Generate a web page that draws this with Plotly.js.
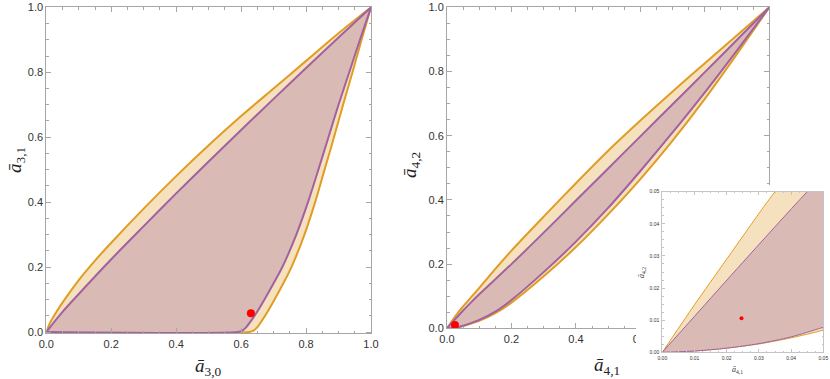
<!DOCTYPE html>
<html>
<head>
<meta charset="utf-8">
<script src="https://cdn.plot.ly/plotly-3.0.1.min.js"></script>
<style>
  html, body { margin: 0; padding: 0; background: #fff; }
  #chart { width: 830px; height: 379px; }
</style>
</head>
<body>
<div id="chart"></div>
<script>
// allowed regions for (a3,0 , a3,1) and (a4,1 , a4,2) — outer (orange) and inner (purple) bounds

// left panel: upper boundaries y(x)
const L_OUT_UP_X = [0, 0.01, 0.03, 0.06, 0.1, 0.15, 0.2, 0.3, 0.4, 0.5, 0.6, 0.7, 0.8, 0.9, 1];
const L_OUT_UP_Y = [0, 0.025, 0.06, 0.105, 0.16, 0.22, 0.275, 0.38, 0.48, 0.575, 0.665, 0.75, 0.835, 0.92, 1];
const L_IN_UP_X = [0, 0.01, 0.05, 0.1, 0.2, 0.3, 0.4, 0.5, 0.6, 0.7, 0.8, 0.9, 1];
const L_IN_UP_Y = [0, 0.013, 0.062, 0.117, 0.224, 0.326, 0.427, 0.525, 0.622, 0.718, 0.813, 0.907, 1];
// left panel: lower boundaries (flat along 0, then rising to the corner)
const L_LO_Y = [0, 0, 0.004, 0.015, 0.035, 0.06, 0.1, 0.15, 0.2, 0.3, 0.4, 0.5, 0.6, 0.7, 0.8, 0.9, 1];
const L_OUT_LO_X = [0, 0.625, 0.638, 0.65, 0.664, 0.68, 0.703, 0.73, 0.755, 0.795, 0.828, 0.857, 0.886, 0.914, 0.943, 0.971, 1];
const L_IN_LO_X = [0, 0.59, 0.604, 0.616, 0.631, 0.648, 0.672, 0.70, 0.727, 0.77, 0.806, 0.838, 0.869, 0.90, 0.933, 0.966, 1];
const L_POINT = { x: 0.630, y: 0.0575 };

// right panel (also used by the inset)
const R_OUT_UP_X = [0, 0.01, 0.02, 0.035, 0.05, 0.075, 0.1, 0.15, 0.2, 0.3, 0.4, 0.5, 0.6, 0.7, 0.8, 0.9, 1];
const R_OUT_UP_Y = [0, 0.0148, 0.029, 0.05, 0.068, 0.097, 0.126, 0.185, 0.242, 0.348, 0.452, 0.553, 0.647, 0.738, 0.826, 0.913, 1];
const R_IN_UP_X = [0, 0.01, 0.025, 0.045, 0.07, 0.1, 0.2, 0.3, 0.4, 0.5, 0.6, 0.7, 0.8, 0.9, 1];
const R_IN_UP_Y = [0, 0.0112, 0.028, 0.05, 0.076, 0.106, 0.2, 0.298, 0.398, 0.498, 0.598, 0.698, 0.798, 0.899, 1];
const R_LO_X = [0, 0.01, 0.02, 0.03, 0.04, 0.05, 0.07, 0.1, 0.15, 0.2, 0.3, 0.4, 0.5, 0.6, 0.7, 0.8, 0.9, 1];
const R_IN_LO_Y = [0, 0.0004, 0.0013, 0.0027, 0.0048, 0.0078, 0.0145, 0.026, 0.052, 0.088, 0.175, 0.27, 0.375, 0.49, 0.61, 0.735, 0.866, 1];
const R_OUT_LO_Y = [0, 0.0004, 0.0013, 0.0026, 0.0045, 0.0069, 0.013, 0.023, 0.047, 0.08, 0.162, 0.253, 0.355, 0.465, 0.585, 0.715, 0.855, 1];
const R_POINT = { x: 0.0246, y: 0.0106 };

const MAIN_TICKS = [0, 0.2, 0.4, 0.6, 0.8, 1];
const INSET_TICKS = [0, 0.01, 0.02, 0.03, 0.04, 0.05];

const C = {
  orange: 'rgb(225,156,36)', purple: 'rgb(160,98,160)',
  outerFill: 'rgb(246,225,191)', innerFill: 'rgb(218,186,181)',
  dot: '#ff0000', frame: '#a6a6a6', text: '#333'
};
const W = 830, H = 379;
const px = (x0, x1) => [x0 / W, x1 / W];
const py = (top, bottom) => [(H - bottom) / H, (H - top) / H];

// filled polygon (upper boundary out, lower boundary back) + two smooth edge lines
function region(upX, upY, loX, loY, fill, line, lw, xa, ya) {
  const base = { xaxis: xa, yaxis: ya, hoverinfo: 'skip', showlegend: false };
  const edge = (x, y) => Object.assign({ x: x, y: y, mode: 'lines',
    line: { color: line, width: lw, shape: 'spline', smoothing: 0.8 } }, base);
  return [
    Object.assign({ x: upX.concat(loX.slice().reverse()), y: upY.concat(loY.slice().reverse()),
      mode: 'lines', fill: 'toself', fillcolor: fill, line: { width: 0 } }, base),
    edge(upX, upY),
    edge(loX, loY),
  ];
}
function dot(p, size, xa, ya) {
  return { x: [p.x], y: [p.y], xaxis: xa, yaxis: ya, mode: 'markers',
    marker: { color: C.dot, size: size }, hoverinfo: 'skip', showlegend: false, cliponaxis: false };
}

const traces = [].concat(
  region(L_OUT_UP_X, L_OUT_UP_Y, L_OUT_LO_X, L_LO_Y, C.outerFill, C.orange, 2, 'x', 'y'),
  region(L_IN_UP_X, L_IN_UP_Y, L_IN_LO_X, L_LO_Y, C.innerFill, C.purple, 2, 'x', 'y'),
  [dot(L_POINT, 8, 'x', 'y')],
  region(R_OUT_UP_X, R_OUT_UP_Y, R_LO_X, R_OUT_LO_Y, C.outerFill, C.orange, 2, 'x2', 'y2'),
  region(R_IN_UP_X, R_IN_UP_Y, R_LO_X, R_IN_LO_Y, C.innerFill, C.purple, 2, 'x2', 'y2'),
  [dot(R_POINT, 8, 'x2', 'y2')],
  // empty white panel that hides the corner of the right plot behind the inset
  [{ x: [], y: [], xaxis: 'x3', yaxis: 'y3', mode: 'markers', showlegend: false, hoverinfo: 'skip' }],
  region(R_OUT_UP_X, R_OUT_UP_Y, R_LO_X, R_OUT_LO_Y, C.outerFill, C.orange, 1, 'x4', 'y4'),
  region(R_IN_UP_X, R_IN_UP_Y, R_LO_X, R_IN_LO_Y, C.innerFill, C.purple, 1, 'x4', 'y4'),
  [dot(R_POINT, 4, 'x4', 'y4')]
);

function mainAxis(domain, anchor, range) {
  return {
    domain: domain, anchor: anchor, range: range || [0, 1], fixedrange: true,
    showline: true, linecolor: C.frame, linewidth: 1, mirror: 'allticks',
    ticks: 'inside', ticklen: 5, tickcolor: C.frame, tickwidth: 1,
    tickvals: MAIN_TICKS, tickformat: '.1f',
    tickfont: { family: 'Liberation Sans, Arial, sans-serif', size: 11, color: C.text },
    minor: { ticks: 'inside', ticklen: 2.5, tickcolor: C.frame, dtick: 0.05, tick0: 0 },
    showgrid: false, zeroline: false
  };
}
function insetAxis(domain, anchor) {
  return {
    domain: domain, anchor: anchor, range: [0, 0.05], fixedrange: true,
    showline: true, linecolor: '#c4c4c4', linewidth: 1, mirror: 'allticks',
    ticks: 'inside', ticklen: 3, tickcolor: '#c4c4c4', tickwidth: 1,
    tickvals: INSET_TICKS, tickformat: '.2f', ticklabelstandoff: 1,
    tickfont: { family: 'Liberation Sans, Arial, sans-serif', size: 5, color: C.text },
    minor: { ticks: 'inside', ticklen: 1.5, tickcolor: '#c4c4c4', dtick: 0.0025, tick0: 0 },
    showgrid: false, zeroline: false
  };
}
const hidden = (domain, anchor) => ({
  domain: domain, anchor: anchor, range: [0, 1], fixedrange: true,
  showline: false, showticklabels: false, ticks: '', showgrid: false, zeroline: false
});

const titleFont = { family: 'Liberation Serif, Times New Roman, serif', size: 19, color: '#222' };
const smallTitle = { family: 'Liberation Serif, Times New Roman, serif', size: 8, color: '#333' };
function label(text, x, y, font, angle) {
  return { text: text, x: x / W, y: (H - y) / H, xref: 'paper', yref: 'paper',
    xanchor: 'center', yanchor: 'middle', showarrow: false, font: font, textangle: angle || 0 };
}

const layout = {
  width: W, height: H, margin: { l: 0, r: 0, t: 0, b: 0 },
  paper_bgcolor: '#fff', plot_bgcolor: '#fff', showlegend: false,
  xaxis: mainAxis(px(46.3, 371), 'y'),
  // a hair of room below 0 so the boundary lying on 0 is not cut in half
  yaxis: mainAxis(py(7.3, 333.3), 'x', [-0.004, 1]),
  xaxis2: mainAxis(px(447, 769.3), 'y2'),
  yaxis2: mainAxis(py(7.3, 328.3), 'x2'),
  xaxis3: hidden(px(636, 830), 'y3'),
  yaxis3: hidden(py(185, 379), 'x3'),
  xaxis4: insetAxis(px(662.3, 823.3), 'y4'),
  yaxis4: insetAxis(py(191.7, 352.3), 'x4'),
  annotations: [
    label('<i>ā</i><sub>3,0</sub>', 208, 367, titleFont),
    label('<i>ā</i><sub>3,1</sub>', 16, 160, titleFont, -90),
    label('<i>ā</i><sub>4,1</sub>', 607, 366, titleFont),
    label('<i>ā</i><sub>4,2</sub>', 411, 165, titleFont, -90),
    label('<i>ā</i><sub>4,1</sub>', 737, 370, smallTitle),
    label('<i>ā</i><sub>4,2</sub>', 642, 273, smallTitle, -90),
  ]
};

Plotly.newPlot('chart', traces, layout, { staticPlot: true, displayModeBar: false });
</script>
</body>
</html>
